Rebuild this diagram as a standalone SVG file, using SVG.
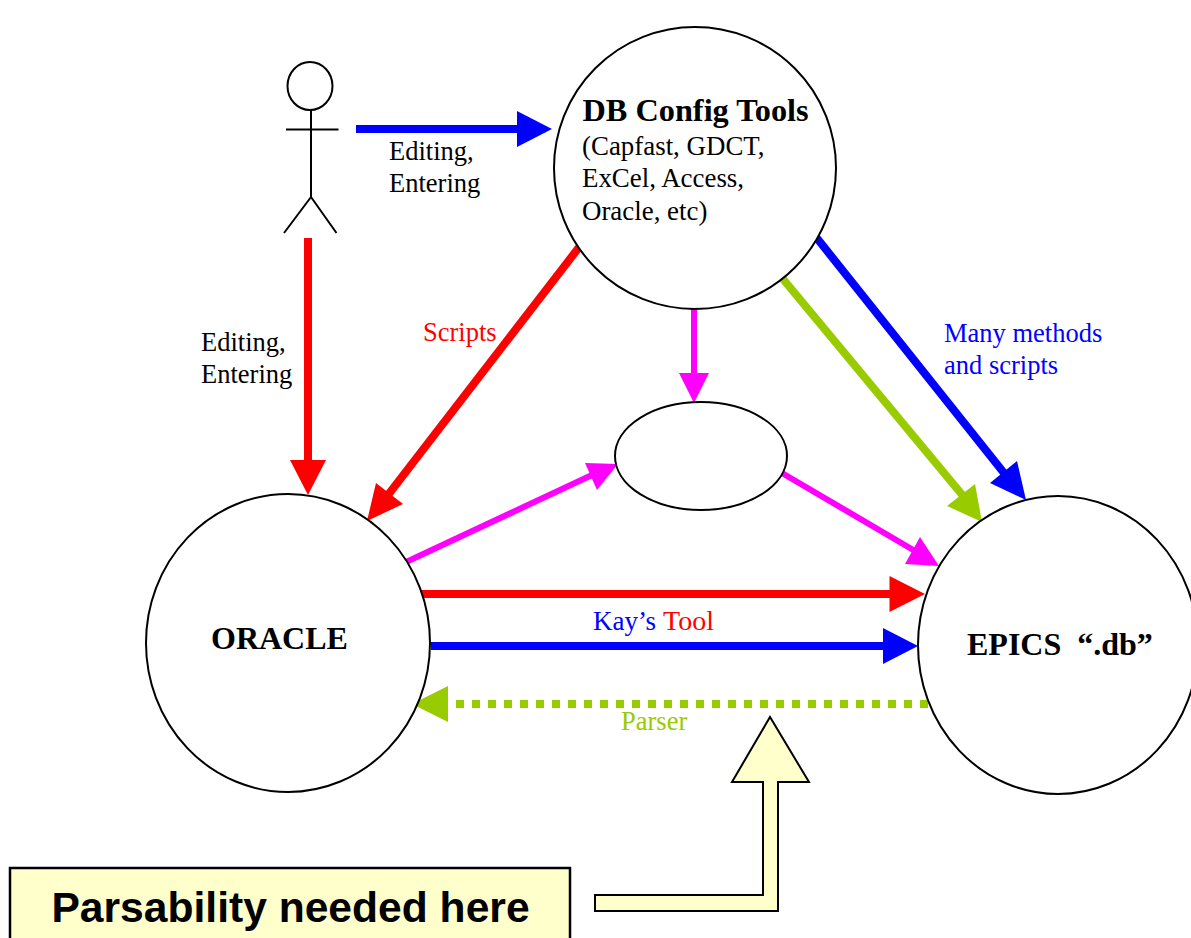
<svg xmlns="http://www.w3.org/2000/svg" width="1191" height="938" viewBox="0 0 1191 938">
<style>
text{font-family:"Liberation Serif",serif;font-size:26.5px;fill:#000}
.b{font-weight:bold;font-size:32px}
.s{font-size:26.900px}
.node{fill:#fff;stroke:#000;stroke-width:2}
.line{fill:none;stroke:#000;stroke-width:2}
.c{fill:none;stroke-width:8}
.m{stroke-width:6}
</style>
<rect width="1191" height="938" fill="#fff"/>
<g id="connectors">
<path class="c" stroke="#00f" d="M356 129H520"/><path fill="#00f" d="M517 111L552 129L517 147Z"/>
<path class="c" stroke="#f00" d="M308 238V462"/><path fill="#f00" d="M290 460H326L308 495Z"/>
<path class="c" stroke="#f00" d="M580 246L388 495"/><path fill="#f00" d="M376 483L403 504L367 521Z"/>
<path class="c m" stroke="#f0f" d="M694 309V376"/><path fill="#f0f" d="M679 373H709L694 403Z"/>
<path class="c m" stroke="#f0f" d="M404 563L592 475"/><path fill="#f0f" d="M585 463L618 464L597 490Z"/>
<path class="c m" stroke="#f0f" d="M782 473L915 551"/><path fill="#f0f" d="M920 537L939 566L905 564Z"/>
<path class="c" stroke="#00f" d="M816 237L1004 473"/><path fill="#00f" d="M1017 461L1026 500L990 483Z"/>
<path class="c" stroke="#9c0" d="M783 279L964 497"/><path fill="#9c0" d="M975 484L982 522L947 506Z"/>
<path class="c" stroke="#f00" d="M420 594H892"/><path fill="#f00" d="M889.500 576L925 594L889.500 612Z"/>
<path class="c" stroke="#00f" d="M431 646H886"/><path fill="#00f" d="M883 628L918 646L883 664Z"/>
<path class="c" stroke="#9c0" d="M456 704H928" stroke-dasharray="8 8"/><path fill="#9c0" d="M448 686L412 704L448 722Z"/>
</g>
<g id="person"><ellipse class="line" cx="310" cy="86" rx="22.500" ry="24"/><path class="line" d="M311 110V197M286 129.500H338.500M311 197L284 233M311 197L336.500 233"/></g>
<g id="db-config-tools"><ellipse class="node" cx="695" cy="168" rx="141" ry="141"/>
<text class="b" x="582.500" y="121" style="font-size:32.300px">DB Config Tools</text><text class="s" x="582" y="154.500">(Capfast, GDCT,</text><text class="s" x="582" y="187">ExCel, Access,</text><text class="s" x="582" y="219.500">Oracle, etc)</text></g>
<g id="middle"><ellipse class="node" cx="701" cy="456" rx="86" ry="54"/></g>
<g id="oracle"><ellipse class="node" cx="288" cy="643" rx="142" ry="149"/><text class="b" x="211" y="649">ORACLE</text></g>
<g id="epics"><ellipse class="node" cx="1058" cy="645" rx="140" ry="149"/><text class="b" x="967" y="655" xml:space="preserve">EPICS  “.db”</text></g>
<g id="labels">
<text x="389" y="160">Editing,</text><text x="389" y="192">Entering</text>
<text x="201" y="351">Editing,</text><text x="201" y="383">Entering</text>
<text x="423" y="341" style="fill:#f00">Scripts</text>
<text x="944" y="342" style="fill:#00f">Many methods</text><text x="944" y="374" style="fill:#00f">and scripts</text>
<text x="593" y="630" style="fill:#00f;font-size:27px">Kay’s <tspan x="663" style="fill:#f00;font-size:28px">Tool</tspan></text>
<text x="621" y="730" style="fill:#9c0">Parser</text>
</g>
<g id="callout">
<path fill="#ffc" stroke="#000" stroke-width="2" d="M595 895H763V782H732L770 717L809 782H778V911H595Z"/>
<rect x="10" y="868" width="560" height="80" fill="#ffc" stroke="#000" stroke-width="2.500"/>
<text x="290.500" y="922" text-anchor="middle" style="font-family:'Liberation Sans',sans-serif;font-weight:bold;font-size:42.600px">Parsability needed here</text>
</g>
</svg>
